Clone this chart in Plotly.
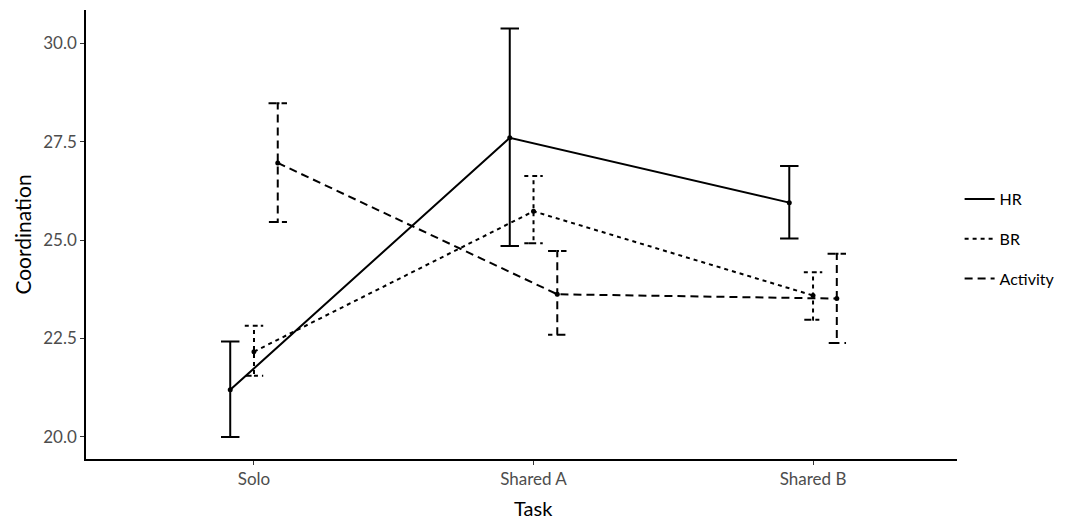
import plotly.graph_objects as go

tasks = ["Solo", "Shared A", "Shared B"]
series = ["HR", "BR", "Activity"]

hr_mean = [21.19, 27.60, 25.95]
hr_upper = [22.42, 30.38, 26.88]
hr_lower = [19.99, 24.85, 25.04]

br_mean = [22.16, 25.73, 23.59]
br_upper = [22.82, 26.63, 24.18]
br_lower = [21.55, 24.92, 22.97]

act_mean = [26.96, 23.62, 23.51]
act_upper = [28.48, 24.72, 24.65]
act_lower = [25.46, 22.59, 22.38]

y_ticks = [20.0, 22.5, 25.0, 27.5, 30.0]

data = {
    "HR": (hr_mean, hr_upper, hr_lower),
    "BR": (br_mean, br_upper, br_lower),
    "Activity": (act_mean, act_upper, act_lower),
}
dashes = {"HR": "solid", "BR": "4px,4px", "Activity": "8px,5px"}
dodge = {"HR": -0.085, "BR": 0.0, "Activity": 0.085}
cap = 0.033
FONT = "Lato, Carlito, Calibri, sans-serif"

fig = go.Figure()
for i, name in enumerate(series):
    mean, upper, lower = data[name]
    xs = [k + dodge[name] for k in range(len(tasks))]
    ex, ey = [], []
    for x, hi, lo in zip(xs, upper, lower):
        ex += [x - cap, x + cap, x, x, x - cap, x + cap, None]
        ey += [hi, hi, hi, lo, lo, lo, None]
    fig.add_trace(go.Scatter(
        x=ex, y=ey, mode="lines", showlegend=False, hoverinfo="skip",
        line=dict(color="black", width=2, dash=dashes[name]),
        legendgroup=name,
    ))
    fig.add_trace(go.Scatter(
        x=xs, y=mean, mode="lines", name=name, legendgroup=name,
        line=dict(color="black", width=2, dash=dashes[name]),
    ))
    fig.add_trace(go.Scatter(
        x=xs, y=mean, mode="markers", showlegend=False, legendgroup=name,
        marker=dict(color="black", size=5),
    ))

fig.update_layout(
    width=1087, height=522,
    margin=dict(l=86, r=130, t=10, b=63),
    plot_bgcolor="white", paper_bgcolor="white",
    font=dict(family=FONT, color="black"),
    showlegend=True,
    legend=dict(
        x=1.003, y=0.49, xanchor="left", yanchor="middle",
        font=dict(size=16, family=FONT, color="black"),
        tracegroupgap=16, itemwidth=30,
        bgcolor="rgba(0,0,0,0)",
    ),
    xaxis=dict(
        range=[-0.601, 2.515],
        tickmode="array", tickvals=[0, 1, 2], ticktext=tasks,
        showgrid=False, zeroline=False, automargin=False,
        showline=True, linecolor="black", linewidth=1.5,
        ticks="outside", ticklen=4, tickcolor="#333333", tickwidth=1,
        tickfont=dict(size=17, color="#4d4d4d", family=FONT),
        title=dict(text=""),
    ),
    yaxis=dict(
        range=[19.43, 30.85],
        tickmode="array", tickvals=y_ticks,
        ticktext=[f"{v:.1f}" for v in y_ticks],
        showgrid=False, zeroline=False, automargin=False,
        showline=True, linecolor="black", linewidth=1.5,
        ticks="outside", ticklen=4, tickcolor="#333333", tickwidth=1,
        tickfont=dict(size=17, color="#4d4d4d", family=FONT),
        title=dict(text="Coordination", font=dict(size=21, family=FONT, color="black"), standoff=6),
    ),
    annotations=[dict(
        text="Task", x=1, xref="x", y=-0.077, yref="paper",
        xanchor="center", yanchor="top", showarrow=False,
        font=dict(size=20, family=FONT, color="black"),
    )],
)

fig.write_html(
    "out.html",
    config={"displayModeBar": False},
    post_script="document.body.style.margin='0';document.body.style.padding='0';",
)
